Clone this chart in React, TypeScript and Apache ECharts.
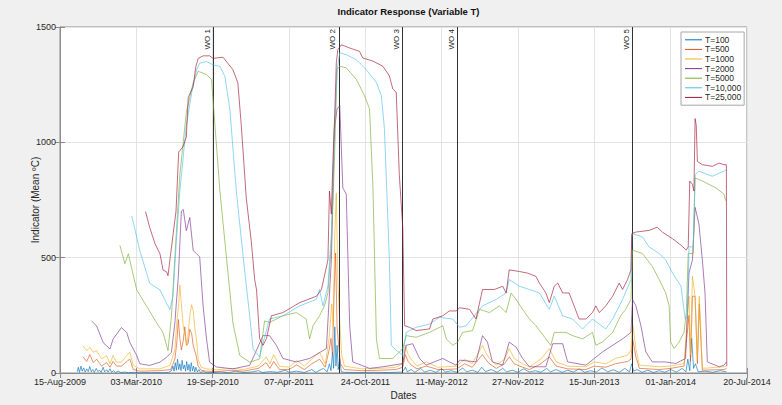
import React, { useEffect, useRef } from "react";
import * as echarts from "echarts";

// x values are days after 15-Aug-2009
const tickLabels = ["15-Aug-2009", "03-Mar-2010", "19-Sep-2010", "07-Apr-2011", "24-Oct-2011", "11-May-2012", "27-Nov-2012", "15-Jun-2013", "01-Jan-2014", "20-Jul-2014"];
const seriesNames = ["T=100", "T=500", "T=1000", "T=2000", "T=5000", "T=10,000", "T=25,000"];
const seriesColors = ["#0072BD", "#D95319", "#EDB120", "#7E2F8E", "#77AC30", "#4DBEEE", "#A2142F"];
const woDays = [401, 731, 898, 1042, 1500];
const woLabels = ["WO 1", "WO 2", "WO 3", "WO 4", "WO 5"];

const t100 = [[45,5],[48,25],[51,3],[55,30],[58,8],[62,22],[66,4],[70,18],[74,6],[78,28],[82,5],[86,15],[90,3],[95,20],[99,6],[104,12],[108,3],[113,25],[117,5],[122,14],[126,4],[131,18],[135,3],[140,10],[146,2],[152,8],[160,2],[170,4],[180,1],[195,3],[210,1],[225,2],[240,1],[255,2],[270,1],[285,3],[292,10],[296,30],[299,8],[302,45],[305,12],[308,60],[311,15],[314,40],[317,10],[320,55],[323,18],[326,35],[329,8],[332,50],[335,12],[338,38],[341,6],[344,45],[347,10],[350,30],[353,5],[356,25],[360,4],[364,15],[368,2],[375,6],[385,1],[400,2],[420,5],[440,1],[460,8],[480,2],[500,4],[520,10],[530,2],[550,6],[570,3],[590,12],[600,3],[620,8],[640,2],[660,15],[670,3],[690,20],[700,5],[706,40],[710,10],[714,90],[717,20],[720,200],[723,30],[726,120],[729,15],[733,60],[737,5],[745,3],[780,2],[820,3],[860,2],[895,4],[900,10],[905,25],[910,5],[920,15],[930,3],[945,20],[955,4],[970,12],[985,3],[1000,18],[1010,4],[1025,10],[1040,3],[1055,22],[1065,5],[1080,12],[1095,3],[1105,25],[1115,6],[1130,15],[1145,3],[1160,20],[1170,5],[1185,12],[1200,3],[1215,18],[1230,4],[1245,10],[1260,3],[1275,20],[1285,5],[1300,15],[1315,3],[1330,12],[1345,4],[1360,18],[1375,3],[1390,10],[1405,4],[1420,22],[1435,5],[1450,14],[1465,3],[1480,20],[1492,5],[1498,40],[1503,8],[1512,15],[1525,3],[1540,12],[1555,2],[1570,10],[1585,3],[1600,15],[1615,4],[1630,20],[1640,5],[1645,60],[1650,10],[1655,150],[1660,20],[1665,40],[1672,5],[1690,8],[1710,3],[1730,10],[1746,5]];

const t500 = [[60,70],[70,50],[78,80],[87,45],[96,60],[109,30],[122,45],[131,25],[139,50],[148,30],[161,30],[175,50],[183,60],[192,15],[209,8],[262,10],[290,15],[301,60],[306,130],[310,232],[314,150],[318,100],[323,140],[327,200],[331,120],[336,130],[340,189],[345,170],[349,120],[356,80],[362,30],[370,12],[384,8],[410,6],[450,12],[480,8],[520,20],[540,45],[550,20],[560,50],[575,15],[600,15],[620,35],[640,15],[660,40],[680,60],[695,25],[705,100],[710,150],[714,80],[718,350],[722,520],[726,200],[730,120],[735,40],[745,15],[790,10],[840,12],[880,15],[898,25],[905,80],[912,50],[920,35],[935,18],[960,30],[990,15],[1010,15],[1040,18],[1060,40],[1080,25],[1107,80],[1115,60],[1125,40],[1143,20],[1165,40],[1177,70],[1190,40],[1212,25],[1230,15],[1260,40],[1282,70],[1300,30],[1330,18],[1378,15],[1400,30],[1430,25],[1455,40],[1487,50],[1496,60],[1500,150],[1509,70],[1518,20],[1570,15],[1600,20],[1635,30],[1648,250],[1652,50],[1657,333],[1664,333],[1670,40],[1675,300],[1683,12],[1740,15],[1746,20]];

const t1000 = [[60,118],[70,97],[78,111],[87,90],[96,97],[109,61],[122,76],[131,40],[139,76],[148,47],[161,47],[175,76],[183,90],[192,33],[209,18],[262,18],[288,33],[301,100],[305,200],[311,300],[314,382],[318,300],[323,200],[327,170],[333,120],[340,250],[345,296],[349,270],[353,200],[358,140],[362,60],[370,25],[384,18],[410,14],[450,20],[480,15],[520,30],[540,70],[550,40],[560,80],[575,30],[600,25],[620,55],[640,30],[660,60],[680,90],[695,40],[705,150],[712,300],[716,200],[720,600],[724,780],[728,400],[732,250],[738,80],[745,30],[790,18],[840,20],[880,25],[898,40],[905,120],[912,80],[920,60],[935,30],[960,48],[990,25],[1010,27],[1040,30],[1060,60],[1080,40],[1107,120],[1115,90],[1125,63],[1143,34],[1165,60],[1177,106],[1190,63],[1212,40],[1230,27],[1260,60],[1282,106],[1300,48],[1330,30],[1378,27],[1400,48],[1430,40],[1455,63],[1487,77],[1496,100],[1500,219],[1509,106],[1518,34],[1570,27],[1600,30],[1635,41],[1648,333],[1652,80],[1657,420],[1664,333],[1670,60],[1675,333],[1683,20],[1740,27],[1746,30]];

const t2000 = [[83,225],[96,204],[113,132],[131,104],[139,147],[161,197],[175,175],[183,132],[201,76],[209,40],[235,33],[262,47],[279,68],[292,90],[301,218],[310,417],[318,702],[323,709],[331,617],[340,674],[349,531],[358,517],[366,503],[375,289],[384,147],[392,47],[410,26],[453,18],[497,33],[532,162],[549,162],[567,120],[584,63],[619,48],[654,63],[698,106],[711,490],[719,1060],[726,1145],[733,1159],[741,803],[750,775],[759,205],[767,48],[811,20],[846,27],[898,41],[907,120],[924,127],[942,63],[959,34],[1003,63],[1020,48],[1038,34],[1047,56],[1090,48],[1107,162],[1120,134],[1133,48],[1160,34],[1177,134],[1195,112],[1212,63],[1230,27],[1273,27],[1291,127],[1317,127],[1330,48],[1378,34],[1400,63],[1421,91],[1448,120],[1474,148],[1496,176],[1500,319],[1509,291],[1522,205],[1535,91],[1552,48],[1587,48],[1613,41],[1639,63],[1648,433],[1657,490],[1664,718],[1674,647],[1683,490],[1690,347],[1696,48],[1727,27],[1740,34],[1746,48]];

const t5000 = [[157,553],[170,474],[179,517],[201,360],[227,289],[253,218],[270,175],[283,97],[292,247],[301,503],[314,859],[331,1130],[349,1258],[362,1308],[384,1294],[397,1272],[406,1073],[419,788],[436,503],[453,218],[471,76],[497,47],[523,61],[536,226],[549,219],[584,248],[619,262],[645,234],[654,148],[663,205],[680,248],[693,291],[702,347],[711,561],[719,917],[726,1316],[733,1330],[750,1323],[776,1274],[798,1202],[811,1145],[820,803],[829,148],[837,63],[872,63],[898,106],[907,162],[933,155],[968,176],[1003,205],[1012,148],[1029,120],[1042,134],[1055,176],[1081,184],[1099,276],[1125,262],[1151,291],[1169,262],[1182,347],[1195,319],[1212,276],[1230,234],[1247,205],[1273,148],[1286,120],[1295,176],[1326,176],[1343,162],[1369,148],[1395,176],[1404,120],[1421,134],[1448,176],[1469,248],[1482,276],[1496,319],[1500,533],[1526,518],[1552,462],[1570,405],[1587,347],[1596,291],[1600,134],[1609,106],[1622,134],[1635,176],[1641,262],[1646,518],[1659,518],[1664,846],[1683,832],[1718,803],[1740,775],[1744,747]];

const t10000 = [[188,681],[209,531],[235,389],[262,360],[279,303],[288,275],[296,332],[305,574],[314,788],[331,1073],[345,1215],[358,1315],[366,1343],[384,1350],[401,1336],[419,1329],[432,1286],[445,1144],[462,788],[480,503],[497,247],[506,104],[523,70],[536,155],[549,234],[584,248],[628,291],[672,319],[680,362],[689,291],[702,376],[711,604],[719,1060],[726,1316],[733,1388],[750,1380],[776,1359],[802,1316],[829,1259],[842,1202],[850,1060],[855,846],[863,490],[868,120],[881,98],[898,77],[907,176],[933,198],[968,212],[994,241],[1029,234],[1047,198],[1064,205],[1107,291],[1143,319],[1169,347],[1177,405],[1204,376],[1230,362],[1256,347],[1282,276],[1295,333],[1317,248],[1343,234],[1369,191],[1395,234],[1430,191],[1448,234],[1474,319],[1496,405],[1498,590],[1500,604],[1526,590],[1543,547],[1570,518],[1587,490],[1605,433],[1627,376],[1638,234],[1644,248],[1648,547],[1659,547],[1664,860],[1674,875],[1709,853],[1740,875],[1746,882]];

const t25000 = [[224,700],[235,631],[249,560],[262,517],[270,446],[279,439],[283,422],[289,504],[304,702],[311,958],[322,980],[331,1023],[336,1194],[349,1243],[356,1329],[362,1364],[375,1375],[392,1375],[401,1364],[427,1369],[453,1315],[466,1258],[475,1073],[488,759],[501,574],[510,406],[515,360],[523,150],[532,120],[541,150],[554,248],[584,262],[628,305],[672,333],[685,362],[702,490],[706,789],[711,689],[715,917],[720,1131],[724,1345],[728,1402],[737,1423],[759,1409],[785,1394],[793,1366],[820,1352],[846,1330],[863,1288],[872,1231],[881,1217],[889,860],[898,632],[903,205],[916,198],[933,184],[968,191],[977,234],[1003,248],[1020,269],[1038,269],[1047,283],[1073,276],[1090,234],[1107,362],[1138,362],[1160,376],[1169,347],[1177,447],[1204,440],[1225,433],[1247,419],[1256,390],[1273,347],[1282,305],[1295,376],[1304,390],[1317,347],[1334,347],[1347,291],[1360,234],[1378,234],[1395,262],[1404,291],[1413,262],[1430,291],[1448,333],[1465,390],[1474,362],[1487,405],[1496,447],[1498,604],[1509,611],[1543,618],[1565,632],[1578,611],[1605,582],[1627,554],[1641,533],[1646,547],[1650,832],[1657,818],[1661,789],[1664,1103],[1667,1074],[1670,917],[1683,903],[1709,896],[1727,910],[1740,903],[1746,903],[1747,30]];

const seriesData = [t100, t500, t1000, t2000, t5000, t10000, t25000];

const FONT = "Liberation Sans, Arial, sans-serif";
const AX = "#8c8c8c";
const TXT = "#262626";

export default function App() {
  const ref = useRef<HTMLDivElement>(null);
  useEffect(() => {
    const chart = echarts.init(ref.current!, null, { renderer: "svg" });
    const axisCommon = {
      axisLine: { show: true, lineStyle: { color: AX, width: 1 } },
      axisTick: { show: true, inside: true, length: 5, lineStyle: { color: AX } },
    };
    chart.setOption({
      animation: false,
      backgroundColor: "#f0f0f0",
      textStyle: { fontFamily: FONT },
      title: {
        text: "Indicator Response (Variable T)",
        left: 403.5,
        textAlign: "center",
        top: 1,
        textStyle: { fontSize: 9.5, fontWeight: "bold", color: "#111", fontFamily: FONT },
      },
      grid: { left: 60, right: 35, top: 27, bottom: 27, show: true, backgroundColor: "#ffffff", borderColor: AX, borderWidth: 1 },
      legend: {
        data: seriesNames,
        orient: "vertical",
        left: 681,
        top: 32,
        icon: "rect",
        itemWidth: 17,
        itemHeight: 1,
        itemGap: 0,
        padding: [3, 3, 3, 4],
        backgroundColor: "#ffffff",
        borderColor: "#a6a6a6",
        borderWidth: 1,
        textStyle: { fontSize: 8.5, lineHeight: 9.6, color: TXT, fontFamily: FONT, padding: [0, 0, 0, -2] },
      },
      xAxis: [
        {
          type: "value", min: 0, max: 1800, interval: 200,
          name: "Dates", nameLocation: "middle", nameGap: 17, nameMoveOverlap: false,
          nameTextStyle: { fontSize: 10, color: TXT, fontFamily: FONT },
          ...axisCommon,
          axisLabel: { formatter: (v: number) => tickLabels[Math.round(v / 200)] ?? "", fontSize: 9, color: TXT, margin: 4, showMinLabel: true, showMaxLabel: true, fontFamily: FONT },
          splitLine: { show: true, lineStyle: { color: "#e3e3e3", width: 1 } },
        },
        {
          type: "value", min: 0, max: 1800, interval: 200, position: "top",
          ...axisCommon,
          axisLabel: { show: false },
          splitLine: { show: false },
        },
      ],
      yAxis: [
        {
          type: "value", min: 0, max: 1500, interval: 500,
          name: "Indicator (Mean ºC)", nameLocation: "middle", nameGap: 20, nameMoveOverlap: false,
          nameTextStyle: { fontSize: 10, color: TXT, fontFamily: FONT },
          ...axisCommon,
          axisLabel: { formatter: (v: number) => String(v), fontSize: 9, color: TXT, margin: 4, fontFamily: FONT },
          splitLine: { show: true, lineStyle: { color: "#e3e3e3", width: 1 } },
        },
        {
          type: "value", min: 0, max: 1500, interval: 500, position: "right",
          ...axisCommon,
          axisLabel: { show: false },
          splitLine: { show: false },
        },
      ],
      series: [
        ...seriesNames.map((name, i) => ({
          name,
          type: "line",
          data: seriesData[i],
          symbol: "none",
          showSymbol: false,
          lineStyle: { width: 0.8, color: seriesColors[i], opacity: 0.8 },
          itemStyle: { color: seriesColors[i] },
          z: 2 + i,
        })),
        {
          name: "WO",
          type: "line",
          data: [],
          symbol: "none",
          z: 20,
          markLine: {
            silent: true,
            symbol: ["none", "none"],
            lineStyle: { color: "#333333", type: "solid", width: 1 },
            label: {
              show: true,
              position: "insideEndTop",
              formatter: (p: any) => p.name,
              fontSize: 8,
              color: "#222",
              fontFamily: FONT,
              distance: 2,
            },
            data: woDays.map((d, i) => ({ xAxis: d, name: woLabels[i] })),
          },
        },
      ],
    });
    return () => chart.dispose();
  }, []);
  return <div ref={ref} style={{ position: "absolute", left: 0, top: 0, width: 782, height: 405 }} />;
}
